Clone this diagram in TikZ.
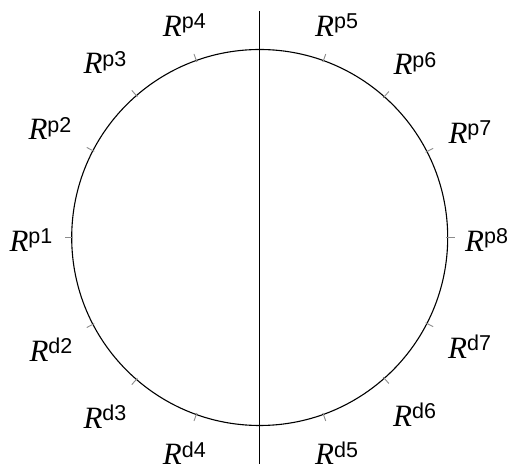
\documentclass[tikz,border=0pt]{standalone}
\usepackage{fontspec}
\usetikzlibrary{calc}
\setmainfont{Liberation Serif}
\setsansfont{Liberation Sans}
\newcommand{\rlbl}[1]{\fontsize{31}{31}\selectfont\textit{R}\raisebox{7.7pt}{\fontsize{21.5}{21.5}\selectfont\sffamily #1}}
\begin{document}
\begin{tikzpicture}[x=1pt,y=1pt,
  rim/.style={line width=1.1pt},
  axisline/.style={line width=1.1pt},
  tickmark/.style={line width=0.9pt,black!45},
  lab/.style={inner sep=0pt,anchor=base west}]
\useasboundingbox (0,0) rectangle (509,471);
\coordinate (c) at (259.7,233.5);
\draw[rim] (c) circle[radius=188];
\coordinate (top) at (259.7,460);
\coordinate (bot) at (259.7,7);
\draw[axisline] (top) -- (bot);
\foreach \a in {180,152.5,131,109.7,70.2,48.5,27.2,0,-152.5,-131,-109.7,-70.2,-48.5,-27.2}
  \draw[tickmark] ($(c)+(\a:186.5)$) -- ($(c)+(\a:195)$);
\node[lab] (p1) at (9.3,219.3) {\rlbl{p1}};
\node[lab] (p2) at (28.3,331) {\rlbl{p2}};
\node[lab] (p3) at (83.3,397) {\rlbl{p3}};
\node[lab] (p4) at (162.7,434.3) {\rlbl{p4}};
\node[lab] (p5) at (315,434.3) {\rlbl{p5}};
\node[lab] (p6) at (393.3,396) {\rlbl{p6}};
\node[lab] (p7) at (448.3,327.7) {\rlbl{p7}};
\node[lab] (p8) at (465,219.3) {\rlbl{p8}};
\node[lab] (d2) at (29.3,109.3) {\rlbl{d2}};
\node[lab] (d3) at (83.3,42.7) {\rlbl{d3}};
\node[lab] (d4) at (162.7,6) {\rlbl{d4}};
\node[lab] (d5) at (315,6) {\rlbl{d5}};
\node[lab] (d6) at (393,44.3) {\rlbl{d6}};
\node[lab] (d7) at (448,112.7) {\rlbl{d7}};
\end{tikzpicture}
\end{document}
